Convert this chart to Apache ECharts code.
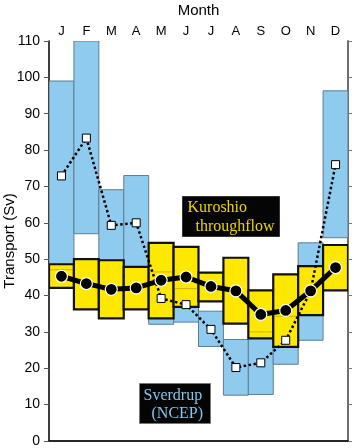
<!DOCTYPE html>
<html>
<head>
<meta charset="utf-8">
<script src="https://cdn.jsdelivr.net/npm/echarts@6/dist/echarts.min.js"></script>
<style>
  html, body { margin: 0; padding: 0; background: #fff; }
  #chart { width: 354px; height: 448px; }
</style>
</head>
<body>
<div id="chart"></div>
<script>
/* Kuroshio throughflow vs Sverdrup (NCEP) monthly transport */

const months = ['J', 'F', 'M', 'A', 'M', 'J', 'J', 'A', 'S', 'O', 'N', 'D'];
const yTicks = [0, 10, 20, 30, 40, 50, 60, 70, 80, 90, 100, 110];

// Sverdrup (NCEP) range, blue boxes
const sverdrupLow = [47.1, 57.0, 49.5, 47.4, 32.1, 32.7, 26.0, 12.6, 12.8, 21.1, 27.7, 55.9];
const sverdrupHigh = [99.0, 110, 69.1, 73.0, 46.5, 41.9, 35.7, 27.9, 30.0, 34.3, 54.5, 96.3];
const sverdrupMean = [72.9, 83.3, 59.3, 60.0, 39.2, 37.5, 30.7, 20.2, 21.5, 27.7, 41.2, 76.0];

// Kuroshio throughflow range, yellow boxes
const kuroshioLow = [42.1, 36.2, 33.7, 36.2, 33.7, 36.9, 38.4, 32.3, 28.2, 25.9, 34.6, 41.4];
const kuroshioHigh = [48.6, 50.0, 49.7, 47.9, 54.5, 53.4, 46.3, 50.4, 41.4, 45.8, 48.1, 53.9];
const kuroshioMean = [45.3, 43.3, 41.7, 42.1, 44.2, 45.1, 42.5, 41.3, 34.8, 35.9, 41.3, 47.7];

const font = 'Liberation Sans, Arial, Helvetica, sans-serif';
const serif = 'Liberation Serif, Times New Roman, serif';

function boxSeries(low, high, style, z) {
  return {
    type: 'custom',
    z,
    clip: true,
    silent: true,
    data: months.map((m, i) => [i, low[i], high[i]]),
    encode: { x: 0, y: [1, 2] },
    renderItem: (params, api) => {
      const lo = api.coord([api.value(0), api.value(1)]);
      const hi = api.coord([api.value(0), api.value(2)]);
      const w = api.size([1, 0])[0];
      return {
        type: 'rect',
        shape: { x: lo[0] - w / 2, y: hi[1], width: w, height: lo[1] - hi[1] },
        style,
      };
    },
  };
}

// faint trace of the blue box edges that sit behind the yellow boxes
const hiddenEdges = {
  type: 'custom',
  z: 3,
  silent: true,
  data: months.map((m, i) => [i, sverdrupLow[i], sverdrupHigh[i], kuroshioLow[i], kuroshioHigh[i]]),
  encode: { x: 0, y: [1, 2] },
  renderItem: (params, api) => {
    const i = api.value(0);
    const w = api.size([1, 0])[0];
    const kLo = api.value(3), kHi = api.value(4);
    const children = [];
    [api.value(1), api.value(2)].forEach((v) => {
      if (v > kLo + 0.5 && v < kHi - 0.5) {
        const p = api.coord([i, v]);
        children.push({
          type: 'line',
          shape: { x1: p[0] - w / 2 + 1, y1: p[1], x2: p[0] + w / 2 - 1, y2: p[1] },
          style: { stroke: 'rgba(160,140,0,0.55)', lineWidth: 1 },
        });
      }
    });
    return { type: 'group', children };
  },
};

const chart = echarts.init(document.getElementById('chart'), null, { renderer: 'canvas' });

chart.setOption({
  animation: false,
  backgroundColor: '#fff',
  grid: { left: 49, right: 6, top: 41, bottom: 7, containLabel: false, outerBoundsMode: 'none' },
  xAxis: [
    {
      type: 'category',
      position: 'top',
      data: months,
      boundaryGap: true,
      name: 'Month',
      nameLocation: 'middle',
      nameGap: 23,
      nameMoveOverlap: false,
      nameTextStyle: { fontFamily: font, fontSize: 15, color: '#000' },
      axisLine: { lineStyle: { color: '#000', width: 1.5 } },
      axisTick: { inside: false, length: 4, lineStyle: { color: '#555' } },
      axisLabel: { fontFamily: font, fontSize: 13, color: '#000', margin: 3 },
      splitLine: { show: false },
    },
    {
      type: 'category',
      position: 'bottom',
      data: months,
      boundaryGap: true,
      axisLine: { lineStyle: { color: '#222', width: 1.5 } },
      axisTick: { inside: false, length: 5, lineStyle: { color: '#555' } },
      axisLabel: { show: false },
      splitLine: { show: false },
    },
  ],
  yAxis: [
    {
      type: 'value',
      min: yTicks[0],
      max: yTicks[yTicks.length - 1],
      interval: 10,
      name: 'Transport (Sv)',
      nameLocation: 'middle',
      nameRotate: 90,
      nameGap: 32,
      nameMoveOverlap: false,
      nameTextStyle: { fontFamily: font, fontSize: 15, color: '#000' },
      axisLine: { show: true, lineStyle: { color: '#000', width: 1.5 } },
      axisTick: { show: true, inside: false, length: 5, lineStyle: { color: '#555' } },
      axisLabel: { fontFamily: font, fontSize: 14, color: '#000', margin: 9 },
      splitLine: { show: false },
    },
    {
      type: 'value',
      position: 'right',
      min: yTicks[0],
      max: yTicks[yTicks.length - 1],
      interval: 10,
      axisLine: { show: true, lineStyle: { color: '#6e6e6e', width: 2 } },
      axisTick: { show: true, inside: false, length: 4, lineStyle: { color: '#777' } },
      axisLabel: { show: false },
      splitLine: { show: false },
    },
  ],
  series: [
    boxSeries(sverdrupLow, sverdrupHigh, { fill: '#8ecbef', stroke: '#5f7d90', lineWidth: 1 }, 1),
    boxSeries(kuroshioLow, kuroshioHigh, { fill: '#ffe800', stroke: '#111', lineWidth: 2.2 }, 2),
    hiddenEdges,
    {
      type: 'line',
      z: 4,
      data: sverdrupMean,
      symbol: 'rect',
      symbolSize: 8,
      itemStyle: { color: '#fff', borderColor: '#000', borderWidth: 1 },
      lineStyle: { color: '#000', width: 2.5, type: 'dotted' },
      silent: true,
    },
    {
      type: 'line',
      z: 5,
      data: kuroshioMean,
      symbol: 'circle',
      symbolSize: 12,
      itemStyle: { color: '#000', borderColor: '#fff', borderWidth: 1.2 },
      lineStyle: { color: '#000', width: 5 },
      silent: true,
    },
  ],
  graphic: [
    {
      type: 'group',
      left: 182,
      top: 196,
      z: 10,
      children: [
        { type: 'rect', shape: { x: 0, y: 0, width: 97, height: 40 }, style: { fill: '#050505', stroke: '#333', lineWidth: 1 } },
        { type: 'text', x: 5, y: 11, style: { text: 'Kuroshio', font: `16px ${serif}`, fill: '#ecd400', verticalAlign: 'middle' } },
        { type: 'text', x: 13, y: 30, style: { text: 'throughflow', font: `16px ${serif}`, fill: '#ecd400', verticalAlign: 'middle' } },
      ],
    },
    {
      type: 'group',
      left: 139,
      top: 383,
      z: 10,
      children: [
        { type: 'rect', shape: { x: 0, y: 0, width: 71, height: 40 }, style: { fill: '#050505', stroke: '#777', lineWidth: 1 } },
        { type: 'text', x: 4, y: 12, style: { text: 'Sverdrup', font: `16px ${serif}`, fill: '#86c6ea', verticalAlign: 'middle' } },
        { type: 'text', x: 12, y: 30, style: { text: '(NCEP)', font: `16px ${serif}`, fill: '#86c6ea', verticalAlign: 'middle' } },
      ],
    },
  ],
});
</script>
</body>
</html>
